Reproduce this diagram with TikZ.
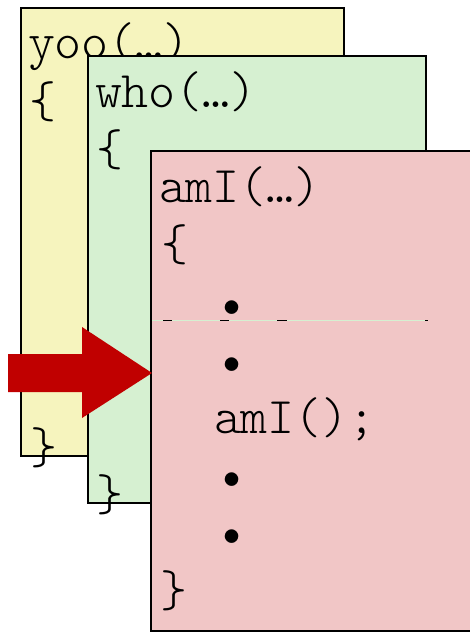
\documentclass[tikz,border=0pt]{standalone}
\usepackage{fontspec}
\newfontfamily\codefont{Latin Modern Mono Light}
\definecolor{yfill}{RGB}{246,244,190}
\definecolor{gfill}{RGB}{214,240,209}
\definecolor{pfill}{RGB}{241,198,198}
\definecolor{arrred}{RGB}{192,0,0}
\begin{document}
\begin{tikzpicture}[x=1pt,y=-1pt,
  frame/.style={draw=black,line width=2pt,anchor=north west,inner sep=0pt,outer sep=0pt},
  code/.style={inner sep=0pt,outer sep=0pt,font=\codefont\fontsize{51.4}{60}\selectfont},
  codeL/.style={code,anchor=base west},
  codeC/.style={code,anchor=base}]
\useasboundingbox (0,0) rectangle (470,632);
\clip (0,0) rectangle (470,632);
% yellow frame
\node[frame,fill=yfill,minimum width=323pt,minimum height=448pt] (yoo) at (21,8) {};
\node[codeL] (yooname) at (28,58) {yoo(…)};
\node[codeC] (yooopen) at (43,117) {\{};
\node[codeC] (yooclose) at (43.5,463) {\}};
% green frame
\node[frame,fill=gfill,minimum width=338pt,minimum height=447pt] (who) at (88,56) {};
\node[codeL] (whoname) at (95,107) {who(…)};
\node[codeC] (whoopen) at (110,165) {\{};
\node[codeC] (whoclose) at (110,510) {\}};
% pink frame
\node[frame,fill=pfill,minimum width=340pt,minimum height=480pt] (ami) at (151,151) {};
\coordinate (gapL) at (152,320.5);
\coordinate (gapR) at (427,320.5);
\draw[gfill,line width=1pt] (gapL) -- (gapR);
\foreach \a/\b in {163/172,220/229,277/287,425/428}
  \draw[black,line width=1pt] (\a,320.5) -- (\b,320.5);
\node[codeL] (aminame) at (159,202) {amI(…)};
\node[codeC] (amiopen) at (174.5,260) {\{};
\node[codeC] (b1) at (232,319) {•};
\node[codeC] (b2) at (232,376) {•};
\node[codeL] (call) at (214,433) {amI();};
\node[codeC] (b3) at (232,491) {•};
\node[codeC] (b4) at (232,548) {•};
\node[codeC] (amiclose) at (174,606) {\}};
% red arrow
\fill[arrred] (8,354) -- (82,354) -- (82,327) -- (152,373) -- (82,418) -- (82,392) -- (8,392) -- cycle;
\end{tikzpicture}
\end{document}
